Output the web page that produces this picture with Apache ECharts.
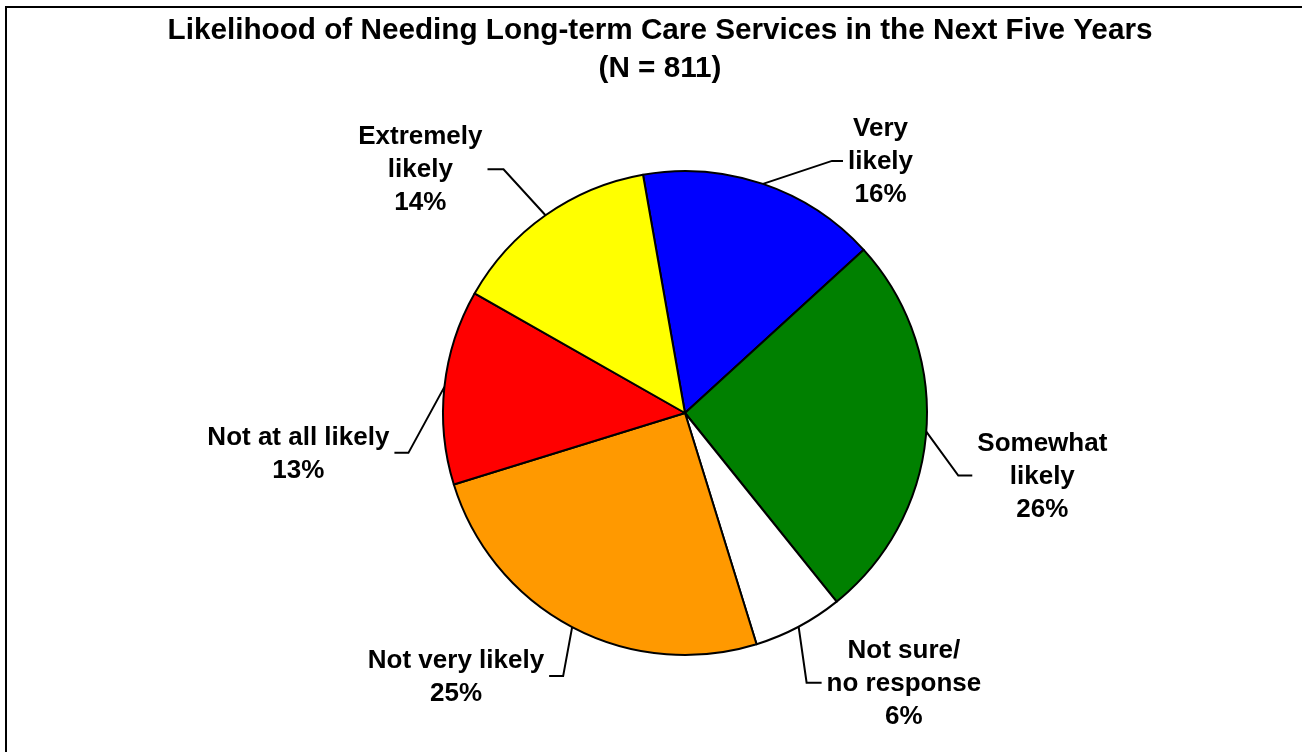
<!DOCTYPE html>
<html>
<head>
<meta charset="utf-8">
<script src="https://cdn.jsdelivr.net/npm/echarts@6/dist/echarts.min.js"></script>
<style>
html,body{margin:0;padding:0;background:#fff;}
#chart{width:1302px;height:752px;}
</style>
</head>
<body>
<div id="chart"></div>
<script>
// ---- data ----
const titleText = 'Likelihood of Needing Long-term Care Services in the Next Five Years';
const subtitleText = '(N = 811)';
const categories = ['Very\nlikely', 'Somewhat\nlikely', 'Not sure/\nno response', 'Not very likely', 'Not at all likely', 'Extremely\nlikely'];
const values = [16, 26, 6, 25, 13, 14];

// ---- style / layout (not data) ----
const colors = ['#0000FF', '#008000', '#FFFFFF', '#FF9900', '#FF0000', '#FFFF00'];
const leaderOffsets = [
  { elbow: [69, -23], end: [80, -23] },
  { elbow: [32, 44], end: [46, 44] },
  { elbow: [8, 56], end: [23, 56] },
  { elbow: [-9, 49], end: [-23, 49] },
  { elbow: [-36, 66], end: [-50, 66] },
  { elbow: [-42, -46], end: [-58, -46] }
];
const labelGap = 5;
const FONT = '"Liberation Sans", Arial, Helvetica, sans-serif';

const chart = echarts.init(document.getElementById('chart'), null, { renderer: 'canvas' });

const pieData = categories.map((c, i) => ({
  name: c,
  value: values[i],
  itemStyle: { color: colors[i] }
}));

chart.setOption({
  backgroundColor: '#ffffff',
  animation: false,
  title: {
    text: titleText + '\n' + subtitleText,
    left: 655,
    top: 7,
    textAlign: 'center',
    textStyle: {
      fontFamily: FONT,
      fontSize: 29.7,
      fontWeight: 'bold',
      color: '#000',
      lineHeight: 38,
      align: 'center'
    }
  },
  graphic: [{
    type: 'rect',
    silent: true,
    shape: { x: 6, y: 7, width: 1500, height: 900 },
    style: { fill: 'none', stroke: '#000', lineWidth: 2 }
  }],
  series: [{
    type: 'pie',
    center: [685, 413],
    radius: [0, 242],
    startAngle: 100,
    clockwise: true,
    avoidLabelOverlap: false,
    data: pieData,
    itemStyle: { borderColor: '#000', borderWidth: 2 },
    emphasis: { disabled: true },
    label: {
      show: true,
      position: 'outside',
      formatter: p => p.name + '\n' + p.value + '%',
      fontFamily: FONT,
      fontSize: 26,
      fontWeight: 'bold',
      color: '#000',
      lineHeight: 33,
      align: 'center'
    },
    labelLine: {
      show: true,
      length: 10,
      length2: 10,
      smooth: false,
      lineStyle: { color: '#000', width: 2 }
    },
    labelLayout: function (params) {
      const i = params.dataIndex;
      const pts = params.labelLinePoints;
      if (!pts) return {};
      const p0 = pts[0];
      const off = leaderOffsets[i];
      const elbow = [p0[0] + off.elbow[0], p0[1] + off.elbow[1]];
      const end = [p0[0] + off.end[0], p0[1] + off.end[1]];
      const w = params.labelRect.width;
      const right = off.end[0] > off.elbow[0];
      const cx = right ? end[0] + labelGap + w / 2 : end[0] - labelGap - w / 2;
      return {
        x: cx,
        y: end[1] + 1,
        align: 'center',
        verticalAlign: 'middle',
        labelLinePoints: [p0, elbow, end]
      };
    }
  }]
});
</script>
</body>
</html>
